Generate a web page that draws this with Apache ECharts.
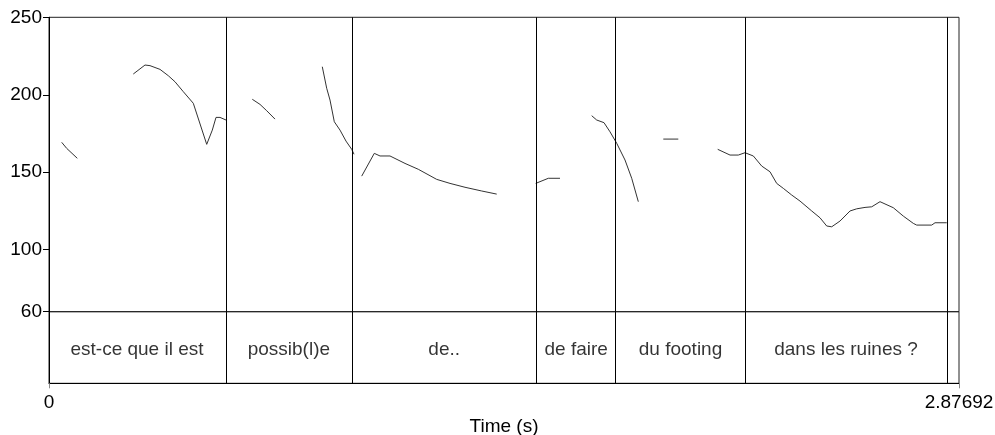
<!DOCTYPE html>
<html>
<head>
<meta charset="utf-8">
<script src="https://cdn.jsdelivr.net/npm/echarts@6/dist/echarts.min.js"></script>
<style>
  html, body { margin: 0; padding: 0; background: #fff; }
  #chart { width: 995px; height: 435px; }
</style>
</head>
<body>
<div id="chart"></div>
<script>
// Total duration of the utterance (s)
const duration = 2.87692;

// Pitch axis range (Hz) and labelled ticks
const pitchMin = 60;
const pitchMax = 250;
const pitchTicks = [60, 100, 150, 200, 250];
const timeTicks = [0, 2.87692];

// Word interval boundaries (s)
const boundaries = [0.5564, 0.9601, 1.5387, 1.7948, 2.1982, 2.8412];

// Interval labels, one per interval between boundaries
const intervals = [
  { text: 'est-ce que il est', start: 0, end: 0.5564 },
  { text: 'possib(l)e', start: 0.5564, end: 0.9601 },
  { text: 'de..', start: 0.9601, end: 1.5387 },
  { text: 'de faire', start: 1.5387, end: 1.7948 },
  { text: 'du footing', start: 1.7948, end: 2.1982 },
  { text: 'dans les ruines ?', start: 2.1982, end: 2.8412 }
];

// Voiced stretches of the F0 contour: [time (s), F0 (Hz)]
const seg1 = [[0.0402, 169.3], [0.0560, 165.4], [0.0895, 159.0]];
const seg2 = [
  [0.2665, 213.4], [0.3035, 219.2], [0.3193, 218.8], [0.3509, 216.4],
  [0.3772, 212.3], [0.3983, 208.4], [0.4246, 202.0], [0.4562, 194.5],
  [0.4986, 168.0], [0.5163, 177.2], [0.5280, 185.4], [0.5406, 185.4],
  [0.5596, 183.7]
];
const seg3 = [[0.6427, 197.1], [0.6671, 193.8], [0.6883, 189.7], [0.7145, 184.3]];
const seg4 = [
  [0.8640, 218.1], [0.8779, 204.2], [0.8884, 196.6], [0.9020, 182.6],
  [0.9200, 177.2], [0.9390, 170.1], [0.9570, 164.8], [0.9643, 161.6]
];
const seg5 = [
  [0.9886, 147.5], [1.0284, 162.2], [1.0465, 160.5], [1.0781, 160.5],
  [1.1255, 155.7], [1.1676, 151.9], [1.2257, 145.4], [1.2678, 142.8],
  [1.3152, 140.3], [1.3680, 137.9], [1.4154, 135.9]
];
const seg6 = [[1.5387, 142.8], [1.5786, 146.1], [1.6155, 146.1]];
const seg7 = [
  [1.7157, 186.5], [1.7315, 183.7], [1.7546, 182.0], [1.7736, 176.1],
  [1.7948, 168.7], [1.8210, 157.9], [1.8422, 146.1], [1.8631, 131.0]
];
const seg8 = [[1.9421, 171.4], [1.9895, 171.4]];
const seg9 = [
  [2.1141, 164.8], [2.1530, 161.1], [2.1792, 161.1], [2.2004, 162.6],
  [2.2267, 160.5], [2.2532, 154.0], [2.2795, 150.3], [2.3006, 142.8],
  [2.3215, 139.6], [2.3480, 135.3], [2.3743, 131.4], [2.4113, 125.0],
  [2.4375, 120.6], [2.4587, 115.3], [2.4745, 114.8], [2.5007, 118.5],
  [2.5324, 125.0], [2.5535, 126.4], [2.5798, 127.3], [2.6010, 127.7],
  [2.6272, 131.0], [2.6693, 127.1], [2.7009, 121.7], [2.7325, 117.0],
  [2.7432, 115.9], [2.7906, 115.9], [2.8011, 117.4], [2.8381, 117.4]
];
const segments = [seg1, seg2, seg3, seg4, seg5, seg6, seg7, seg8, seg9];

const FONT = "'Liberation Sans', Arial, Helvetica, sans-serif";
const FS = 19;

const chart = echarts.init(document.getElementById('chart'), null, { renderer: 'canvas' });

const boundaryLines = {
  silent: true,
  symbol: ['none', 'none'],
  label: { show: false },
  lineStyle: { color: '#000', type: 'solid', width: 1 },
  data: boundaries.map(b => ({ xAxis: b }))
};

const series = segments.map((seg, i) => ({
  type: 'line',
  xAxisIndex: 0,
  yAxisIndex: 0,
  data: seg,
  showSymbol: false,
  symbol: 'none',
  smooth: false,
  silent: true,
  animation: false,
  lineStyle: { color: '#333', width: 1 },
  markLine: i === 0 ? boundaryLines : undefined
}));

series.push({
  type: 'scatter',
  xAxisIndex: 1,
  yAxisIndex: 1,
  symbolSize: 0,
  silent: true,
  animation: false,
  data: intervals.map(iv => ({ value: [(iv.start + iv.end) / 2, 0.47], name: iv.text })),
  label: {
    show: true,
    position: 'inside',
    formatter: p => p.name,
    color: '#000',
    fontFamily: FONT,
    fontSize: FS
  },
  markLine: boundaryLines
});

chart.setOption({
  animation: false,
  backgroundColor: '#fff',
  grid: [
    { left: 49, right: 36, top: 17.3, height: 294.4, outerBoundsMode: 'none', containLabel: false,
      show: true, borderColor: '#222', borderWidth: 1, backgroundColor: 'transparent' },
    { left: 49, right: 36, top: 311.7, height: 71.6, outerBoundsMode: 'none', containLabel: false,
      show: true, borderColor: '#222', borderWidth: 1, backgroundColor: 'transparent' }
  ],
  xAxis: [
    {
      type: 'value', gridIndex: 0, min: 0, max: duration,
      axisLine: { show: false }, axisTick: { show: false },
      axisLabel: { show: false }, splitLine: { show: false }
    },
    {
      type: 'value', gridIndex: 1, min: 0, max: duration,
      name: 'Time (s)', nameLocation: 'middle', nameGap: 34,
      nameTextStyle: { color: '#000', fontFamily: FONT, fontSize: FS },
      axisLine: { show: true, lineStyle: { color: '#000', width: 1 } },
      axisTick: { show: true, length: 5, customValues: timeTicks, lineStyle: { color: '#888' } },
      axisLabel: {
        show: true, customValues: timeTicks, margin: 10,
        color: '#000', fontFamily: FONT, fontSize: FS,
        formatter: v => (v === 0 ? '0' : String(duration))
      },
      splitLine: { show: false }
    }
  ],
  yAxis: [
    {
      type: 'value', gridIndex: 0, min: pitchMin, max: pitchMax,
      axisLine: { show: true, lineStyle: { color: '#000', width: 1 } },
      axisTick: { show: true, length: 6, customValues: pitchTicks, lineStyle: { color: '#000' } },
      axisLabel: {
        show: true, customValues: pitchTicks, margin: 7,
        color: '#000', fontFamily: FONT, fontSize: FS
      },
      splitLine: { show: false }
    },
    {
      type: 'value', gridIndex: 1, min: 0, max: 1,
      axisLine: { show: true, lineStyle: { color: '#000', width: 1 } },
      axisTick: { show: false }, axisLabel: { show: false }, splitLine: { show: false }
    }
  ],
  series: series
});
</script>
</body>
</html>
